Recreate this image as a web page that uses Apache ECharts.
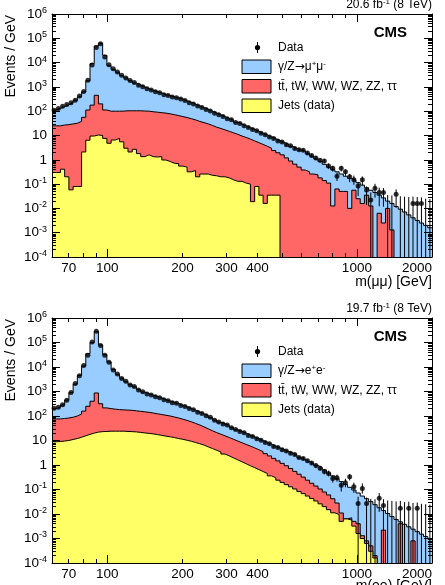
<!DOCTYPE html>
<html>
<head>
<meta charset="utf-8">
<script src="https://cdn.jsdelivr.net/npm/echarts@6/dist/echarts.min.js"></script>
<style>
  html, body { margin: 0; padding: 0; background: #fff; overflow: hidden; }
  #chart { width: 445px; height: 585px; }
</style>
</head>
<body>
<div id="chart"></div>
<script>
// binning: constant width in log(m)
const massMin = 60, massMax = 2000, nBins = 90;
const yMin = 1e-4, yMax = 1e6;

const xLabelValues = [70, 100, 200, 300, 400, 1000, 2000];
const xMajorTicks = [100, 1000];
const xMinorTicks = [70, 80, 90, 200, 300, 400, 500, 600, 700, 800, 900];

// ---- dimuon (top) : stack levels in events / GeV ----
const mmAll = [ // top of the stack (DY + ttbar etc + jets)
  112, 131, 155, 185, 223, 280, 390, 620, 1800, 9000,
  48000, 62000, 20000, 7500, 5300, 4000, 2900, 2350, 1800, 1450,
  1200, 1000, 850, 730, 640, 560, 490, 440, 390, 350,
  320, 270, 230, 195, 166, 141, 120, 100, 85, 71,
  60, 50, 43, 35, 30, 25, 21, 18, 15, 12.6,
  10.5, 8.9, 7.4, 6.2, 5.2, 4.4, 3.6, 3.0, 2.5, 2.3,
  1.8, 1.4, 1.1, 0.85, 0.65, 0.50, 0.39, 0.32, 0.26, 0.21,
  0.17, 0.145, 0.115, 0.091, 0.071, 0.056, 0.045, 0.035, 0.027, 0.020,
  0.016, 0.012, 0.0093, 0.0071, 0.0054, 0.0041, 0.0032, 0.0025, 0.0020, 0.0016
];
const mmJetsTt = [ // ttbar, tW, WW, WZ, ZZ, tautau + jets
  25, 25, 27, 28, 30, 32, 38, 56, 112, 178,
  450, 200, 112, 100, 100, 100, 101, 104, 104, 104,
  104, 102, 100, 95, 91, 87, 83, 78, 72, 66,
  60, 55, 49, 44, 38, 34, 30, 26, 22, 19.5,
  17, 14.8, 12.9, 11.2, 9.5, 8.3, 7.1, 6.0, 5.1, 4.3,
  3.6, 3.0, 2.4, 1.95, 1.6, 1.2, 0.89, 0.66, 0.50, 0.38,
  0.32, 0.26, 0.24, 0.18, 0.14, 0.11, 0.0126, 0.063, 0.050, 0.05,
  0.01, 0.056, 0.025, 0.016, 0.035, 0.0126, 0, 0.0063, 0.0025, 0.01,
  0.0013, 0, 0, 0, 0, 0, 0, 0, 0, 0
];
const mmJets = [
  0.30, 0.30, 0.41, 0.20, 0.058, 0.08, 0.08, 2.1, 6.4, 9.5,
  10.5, 10, 7.6, 4.8, 6.5, 7.6, 5.5, 3.0, 2.1, 2.7,
  1.8, 1.35, 1.6, 1.35, 1.3, 1.35, 0.98, 0.85, 0.72, 0.70,
  0.55, 0.50, 0.32, 0.36, 0.20, 0.26, 0.26, 0.23, 0.22, 0.20,
  0.20, 0.18, 0.15, 0.13, 0.13, 0.11, 0.10, 0.019, 0.08, 0.035,
  0.016, 0.035, 0.035, 0.035, 0, 0, 0, 0, 0, 0,
  0, 0, 0, 0, 0, 0, 0, 0, 0, 0,
  0, 0, 0, 0, 0, 0, 0, 0, 0, 0,
  0, 0, 0, 0, 0, 0, 0, 0, 0, 0
];
const mmData = [
  110, 128, 158, 190, 225, 285, 420, 640, 1900, 8000,
  42000, 60000, 17000, 8200, 5600, 4100, 3000, 2300, 1850, 1500,
  1180, 1010, 840, 740, 630, 570, 480, 445, 385, 355,
  315, 275, 225, 198, 163, 143, 118, 103, 83, 72,
  61, 49, 44, 34, 31, 25, 21.5, 17.5, 15.5, 12.3,
  10.8, 8.6, 7.6, 6.0, 5.4, 4.2, 3.8, 2.9, 2.6, 2.5,
  1.9, 1.5, 1.2, 0.95, 0.9, 0.55, 0.45, 0.21, 0.45, 0.32,
  0.2, 0.15, 0.083, 0.15, 0.057, 0.022, 0.068, 0.045, 0.045, 0,
  0, 0.038, 0, 0, 0, 0.016, 0.016, 0.016, 0, 0
];

// ---- dielectron (bottom) ----
const eeAll = [
  200, 230, 280, 450, 900, 2000, 4500, 11000, 35000, 100000,
  280000, 79000, 32000, 16000, 7900, 5000, 3500, 2500, 1900, 1550,
  1200, 950, 810, 710, 630, 550, 470, 410, 360, 320,
  275, 240, 204, 174, 145, 123, 105, 85, 69, 56,
  48, 42, 34, 27.5, 24, 20, 16.6, 14.1, 12, 10,
  8.5, 7.1, 5.9, 5.0, 4.3, 3.6, 3.1, 2.6, 2.0, 1.66,
  1.38, 1.15, 0.95, 0.79, 0.63, 0.47, 0.36, 0.275, 0.21, 0.16,
  0.123, 0.095, 0.072, 0.054, 0.042, 0.032, 0.024, 0.018, 0.0138, 0.0105,
  0.0079, 0.006, 0.0048, 0.0038, 0.003, 0.0024, 0.0019, 0.0015, 0.0012, 0.00095
];
const eeJetsTt = [
  76, 76, 79, 83, 89, 100, 120, 158, 250, 400,
  870, 316, 214, 200, 190, 182, 178, 174, 170, 162,
  155, 148, 141, 132, 123, 115, 107, 100, 91, 83,
  74, 66, 58, 50, 43, 36, 30, 25, 21, 18,
  15.5, 13.2, 11.2, 9.5, 8.1, 6.9, 5.9, 5.0, 4.2, 3.5,
  2.9, 2.35, 1.86, 1.48, 1.17, 0.93, 0.72, 0.55, 0.42, 0.32,
  0.24, 0.18, 0.138, 0.105, 0.079, 0.06, 0.042, 0.028, 0.011, 0.0063,
  0.007, 0.005, 0.004, 0.0013, 0.0008, 0.0005, 0.0002, 0, 0.0022, 0,
  0, 0, 0.004, 0, 0, 0.0008, 0, 0, 0, 0
];
const eeJets = [
  8.9, 9.1, 9.5, 10, 11, 12, 13.5, 15.5, 17.8, 20,
  22, 23, 23.4, 24, 24, 24, 24, 23.4, 23, 22.4,
  21.4, 20.4, 19.5, 18.6, 17.4, 16.2, 15.1, 14.1, 13.2, 12,
  11.2, 10.2, 9.3, 8.3, 7.4, 6.5, 5.5, 4.7, 4.0, 3.4,
  2.8, 2.35, 1.95, 1.62, 1.35, 1.12, 0.93, 0.78, 0.65, 0.54,
  0.45, 0.36, 0.3, 0.24, 0.195, 0.158, 0.129, 0.105, 0.083, 0.068,
  0.054, 0.043, 0.034, 0.026, 0.02, 0.015, 0.0112, 0.0095, 0.005, 0.0063,
  0.0056, 0.0032, 0.0016, 0.001, 0.00063, 0.0003, 0.00016, 0, 0, 0,
  0, 0, 0, 0, 0, 0, 0, 0, 0, 0
];
const eeData = [
  205, 225, 290, 440, 920, 2100, 4400, 11500, 30000, 105000,
  285000, 75000, 30000, 15500, 7600, 5200, 3400, 2600, 1850, 1600,
  1150, 980, 790, 720, 610, 560, 460, 420, 350, 330,
  270, 245, 200, 178, 142, 126, 102, 88, 67, 57,
  47, 43, 33, 28, 23.5, 20.5, 16, 14.5, 11.8, 10.2,
  8.3, 7.3, 5.7, 5.2, 4.2, 3.7, 3.0, 2.7, 2.0, 1.85,
  1.48, 1.2, 0.95, 0.74, 0.54, 0.45, 0.28, 0.30, 0.15, 0.19,
  0.33, 0.13, 0.027, 0.11, 0.027, 0, 0, 0.044, 0.022, 0,
  0, 0, 0.017, 0, 0.017, 0, 0.017, 0, 0, 0
];

const FONT = 'Liberation Sans, Arial, Helvetica, sans-serif';
const C_DY = '#99ccff', C_TT = '#ff6666', C_JETS = '#ffff66';

const binEdges = [];
for (let i = 0; i <= nBins; i++) binEdges.push(massMin * Math.pow(massMax / massMin, i / nBins));

const chart = echarts.init(document.getElementById('chart'), null, { renderer: 'canvas' });

// histogram outline: one point per left edge, plus the last right edge
function stepPoints(vals) {
  const pts = vals.map((v, i) => [binEdges[i], v > 0 ? v : 1e-12]);
  pts.push([binEdges[nBins], pts[pts.length - 1][1]]);
  return pts;
}

function dataPoints(vals) {
  const out = [];
  vals.forEach((v, i) => {
    if (v > 0) out.push([Math.sqrt(binEdges[i] * binEdges[i + 1]), v]);
  });
  return out;
}

// poisson error bars from the event count in each bin
function errorBars(vals) {
  return vals.map((v, i) => {
    const w = binEdges[i + 1] - binEdges[i];
    const n = Math.round(v * w);
    const x = Math.sqrt(binEdges[i] * binEdges[i + 1]);
    if (n === 0) return [x, 0, 1.84 / w];
    return [x, (n - Math.sqrt(n)) / w, (n + Math.sqrt(n)) / w];
  });
}

const yMinorTicks = [];
for (let e = -4; e < 6; e++) for (let k = 2; k <= 9; k++) yMinorTicks.push(e + Math.log10(k));

const black = { color: '#000', width: 1 };

function xDeco(g, position, ticks, len, showLine, showLabels) {
  return {
    gridIndex: g, type: 'value', position: position, z: 10,
    min: Math.log10(massMin), max: Math.log10(massMax),
    axisLine: { show: showLine, onZero: false, lineStyle: black },
    axisTick: { show: true, inside: true, length: len, customValues: ticks.map(t => Math.log10(t)), lineStyle: black },
    axisLabel: showLabels ? {
      show: true, customValues: xLabelValues.map(t => Math.log10(t)),
      formatter: v => String(Math.round(Math.pow(10, v))),
      color: '#000', fontFamily: FONT, fontSize: 13.5, margin: 4, alignMaxLabel: 'right'
    } : { show: false },
    splitLine: { show: false }
  };
}

function yDeco(g, position, len, minor, showLine, showLabels) {
  const ax = {
    gridIndex: g, type: 'value', position: position, z: 10,
    min: -4, max: 6, interval: 1,
    axisLine: { show: showLine, onZero: false, lineStyle: black },
    axisTick: { show: true, inside: true, length: len, lineStyle: black },
    axisLabel: { show: false },
    splitLine: { show: false }
  };
  if (minor) ax.axisTick.customValues = yMinorTicks;
  if (showLabels) {
    ax.axisLabel = {
      show: true, margin: 5,
      formatter: v => v === 0 ? '{b|1}' : v === 1 ? '{b|10}' : '{b|10}{s|' + v + '}',
      rich: {
        b: { fontFamily: FONT, fontSize: 13.5, color: '#000', lineHeight: 16 },
        s: { fontFamily: FONT, fontSize: 9, color: '#000', verticalAlign: 'top', lineHeight: 9 }
      }
    };
  }
  return ax;
}

const xAxes = [], yAxes = [], series = [];
const panels = [
  { all: mmAll, jetsTt: mmJetsTt, jets: mmJets, data: mmData, dyName: 'γ/Z→μ⁺μ⁻' },
  { all: eeAll, jetsTt: eeJetsTt, jets: eeJets, data: eeData, dyName: 'γ/Z→e⁺e⁻' }
];

panels.forEach((p, g) => {
  xAxes.push({ gridIndex: g, type: 'log', logBase: 10, min: massMin, max: massMax, show: false, axisLine: { onZero: false } });
  xAxes.push(xDeco(g, 'bottom', xMinorTicks, 4, true, true));
  xAxes.push(xDeco(g, 'bottom', xMajorTicks, 8, false, false));
  xAxes.push(xDeco(g, 'top', xMinorTicks, 4, true, false));
  xAxes.push(xDeco(g, 'top', xMajorTicks, 8, false, false));

  yAxes.push({ gridIndex: g, type: 'log', logBase: 10, min: yMin, max: yMax, show: false, axisLine: { onZero: false } });
  yAxes.push(yDeco(g, 'left', 8, false, true, true));
  yAxes.push(yDeco(g, 'left', 4, true, false, false));
  yAxes.push(yDeco(g, 'right', 8, false, true, false));
  yAxes.push(yDeco(g, 'right', 4, true, false, false));

  const ax = { xAxisIndex: g * 5, yAxisIndex: g * 5 };
  const layers = [
    [p.dyName, p.all, C_DY],
    ['tt̄, tW, WW, WZ, ZZ, ττ', p.jetsTt, C_TT],
    ['Jets (data)', p.jets, C_JETS]
  ];
  layers.forEach(([name, vals, color], k) => {
    series.push(Object.assign({
      type: 'line', name: name, step: 'end', symbol: 'none', silent: true, clip: true,
      data: stepPoints(vals),
      lineStyle: { color: '#000', width: 1 },
      itemStyle: { color: color },
      areaStyle: { color: color, opacity: 1, origin: yMin },
      z: 2 + k * 0.1
    }, ax));
  });
  series.push(Object.assign({
    type: 'custom', name: 'Data errors', silent: true, clip: true, z: 4,
    encode: { x: 0, y: [1, 2] },
    data: errorBars(p.data),
    renderItem: (params, api) => {
      const x = api.value(0);
      const lo = Math.max(api.value(1), yMin), hi = api.value(2);
      const a = api.coord([x, lo]), b = api.coord([x, hi]);
      return { type: 'line', shape: { x1: a[0], y1: a[1], x2: b[0], y2: b[1] }, style: { stroke: '#000', lineWidth: 1 } };
    }
  }, ax));
  series.push(Object.assign({
    type: 'scatter', name: 'Data', silent: true, z: 5,
    symbol: 'circle', symbolSize: 5,
    itemStyle: { color: '#000' },
    data: dataPoints(p.data)
  }, ax));
});

function txt(x, y, text, opts) {
  return {
    type: 'text', x: x, y: y, silent: true, z: 20,
    style: Object.assign({
      text: text, fill: '#000', fontFamily: FONT, fontSize: 12,
      align: 'left', textAlign: 'left', verticalAlign: 'middle', textVerticalAlign: 'middle'
    }, opts || {})
  };
}

const supRich = {
  n: { fontFamily: FONT, fontSize: 12, color: '#000', lineHeight: 14 },
  a: { fontFamily: 'DejaVu Sans', fontSize: 12, color: '#000', lineHeight: 14 },
  s: { fontFamily: FONT, fontSize: 8, color: '#000', verticalAlign: 'top', lineHeight: 8 }
};

function panelGraphics(dy, lumi, dyLabel, xTitle) {
  const right = { align: 'right', textAlign: 'right' };
  return [
    txt(432, 4.3 + dy, '{n|' + lumi + ' fb}{s|-1}{n| (8 TeV)}', Object.assign({ rich: supRich }, right)),
    txt(407, 32.5 + dy, 'CMS', Object.assign({ fontSize: 15, fontWeight: 'bold' }, right)),
    Object.assign(txt(11, 15 + dy, 'Events / GeV', Object.assign({ fontSize: 14 }, right)), { rotation: Math.PI / 2 }),
    txt(432, 281.7 + dy, xTitle, Object.assign({ fontSize: 14 }, right)),
    // legend
    { type: 'line', silent: true, z: 20, shape: { x1: 257.5, y1: 42 + dy, x2: 257.5, y2: 53 + dy }, style: { stroke: '#000', lineWidth: 1 } },
    { type: 'circle', silent: true, z: 20, shape: { cx: 257.5, cy: 47.5 + dy, r: 2.6 }, style: { fill: '#000' } },
    txt(278, 47.5 + dy, 'Data'),
    { type: 'rect', silent: true, z: 20, shape: { x: 242, y: 60 + dy, width: 29, height: 13.5 }, style: { fill: C_DY, stroke: '#000', lineWidth: 1 } },
    txt(278, 67 + dy, dyLabel, { rich: supRich }),
    { type: 'rect', silent: true, z: 20, shape: { x: 242, y: 79.5 + dy, width: 29, height: 13.5 }, style: { fill: C_TT, stroke: '#000', lineWidth: 1 } },
    txt(278, 86.5 + dy, 'tt̄, tW, WW, WZ, ZZ, ττ'),
    { type: 'rect', silent: true, z: 20, shape: { x: 242, y: 99 + dy, width: 29, height: 13.5 }, style: { fill: C_JETS, stroke: '#000', lineWidth: 1 } },
    txt(278, 106 + dy, 'Jets (data)')
  ];
}

chart.setOption({
  animation: false,
  backgroundColor: '#fff',
  grid: [
    { left: 52, top: 14, width: 380, height: 243, outerBoundsMode: 'none' },
    { left: 52, top: 318, width: 380, height: 245, outerBoundsMode: 'none' }
  ],
  xAxis: xAxes,
  yAxis: yAxes,
  series: series,
  graphic: { elements: [
    ...panelGraphics(0, '20.6', '{n|γ/Z}{a|→}{n|μ}{s|+}{n|μ}{s|-}', 'm(μμ) [GeV]'),
    ...panelGraphics(304, '19.7', '{n|γ/Z}{a|→}{n|e}{s|+}{n|e}{s|-}', 'm(ee) [GeV]')
  ] }
});
</script>
</body>
</html>
